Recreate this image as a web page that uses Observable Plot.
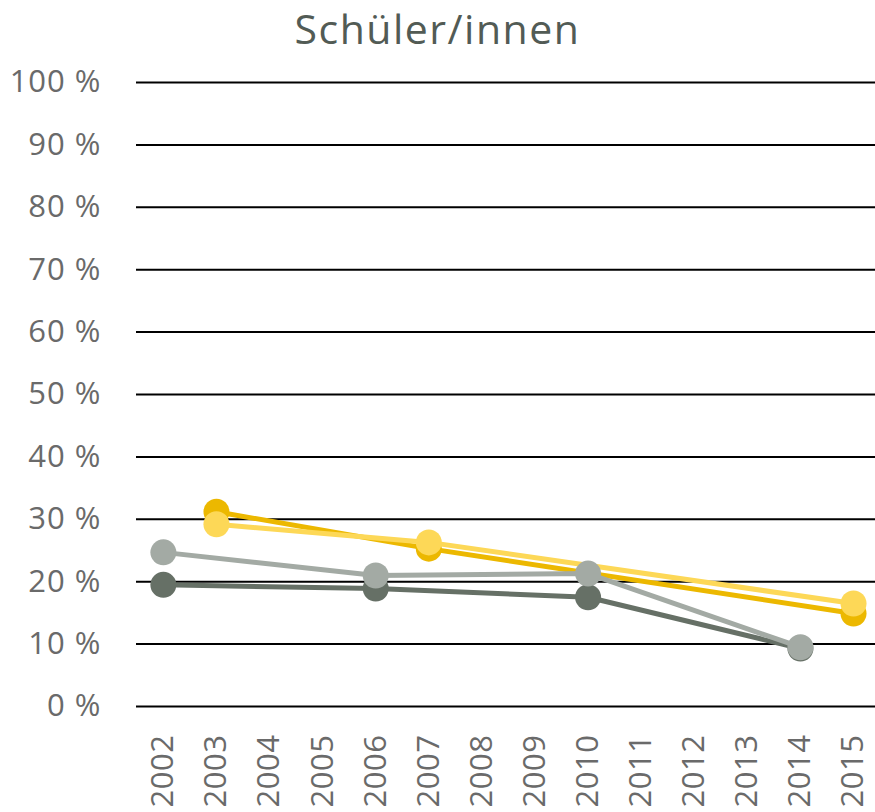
<!DOCTYPE html>
<html><head><meta charset="utf-8">
<script src="https://cdn.jsdelivr.net/npm/d3@7"></script>
<script src="https://cdn.jsdelivr.net/npm/@observablehq/plot@0.6"></script>
<style>
body{margin:0;background:#fff;}
#title{height:62px;text-align:center;font-family:"Open Sans",sans-serif;font-size:41px;color:#525b55;line-height:56px;letter-spacing:1.5px;}
g[aria-label="y-axis tick label"] text{letter-spacing:1px;}
g[aria-label="x-axis tick label"] text{letter-spacing:0.5px;}
</style></head>
<body>
<div id="title">Schüler/innen</div>
<div id="chart"></div>
<script>
const years = ["2002","2003","2004","2005","2006","2007","2008","2009","2010","2011","2012","2013","2014","2015"];
const yTicks = [0,10,20,30,40,50,60,70,80,90,100];
const darkYellowYears = ["2003","2007","2015"];
const darkYellowVals = [31.2, 25.3, 14.9];
const lightYellowYears = ["2003","2007","2015"];
const lightYellowVals = [29.2, 26.3, 16.5];
const darkGrayYears = ["2002","2006","2010","2014"];
const darkGrayVals = [19.5, 18.9, 17.5, 9.3];
const lightGrayYears = ["2002","2006","2010","2014"];
const lightGrayVals = [24.7, 21.0, 21.3, 9.5];

const series = [
  {years: darkYellowYears, vals: darkYellowVals, color: "#ecb800"},
  {years: lightYellowYears, vals: lightYellowVals, color: "#fdd857"},
  {years: darkGrayYears, vals: darkGrayVals, color: "#667066"},
  {years: lightGrayYears, vals: lightGrayVals, color: "#a3aaa4"}
];

const marks = [
  Plot.ruleY(yTicks, {stroke: "#000", strokeWidth: 2})
];
for (const s of series) {
  const d = s.years.map((y, i) => ({year: y, v: s.vals[i]}));
  marks.push(Plot.line(d, {x: "year", y: "v", stroke: s.color, strokeWidth: 5}));
  marks.push(Plot.dot(d, {x: "year", y: "v", fill: s.color, r: 13}));
}
marks.push(Plot.axisY({ticks: yTicks, tickSize: 0, tickPadding: 35, tickFormat: d => d + " %", fontSize: 31, fill: "#6a6a6a"}));
marks.push(Plot.axisX({tickSize: 0, tickPadding: 28, tickRotate: -90, fontSize: 31, fill: "#6a6a6a"}));

const chart = Plot.plot({
  width: 875,
  height: 750,
  marginTop: 20,
  marginBottom: 106,
  marginLeft: 136,
  marginRight: 0,
  style: {fontFamily: "Open Sans, sans-serif", background: "#fff", overflow: "visible"},
  x: {type: "point", domain: years, padding: 0.46, align: 0.55, round: false, label: null},
  y: {domain: [0, 100], label: null},
  marks
});
document.getElementById("chart").appendChild(chart);
</script>
</body></html>
